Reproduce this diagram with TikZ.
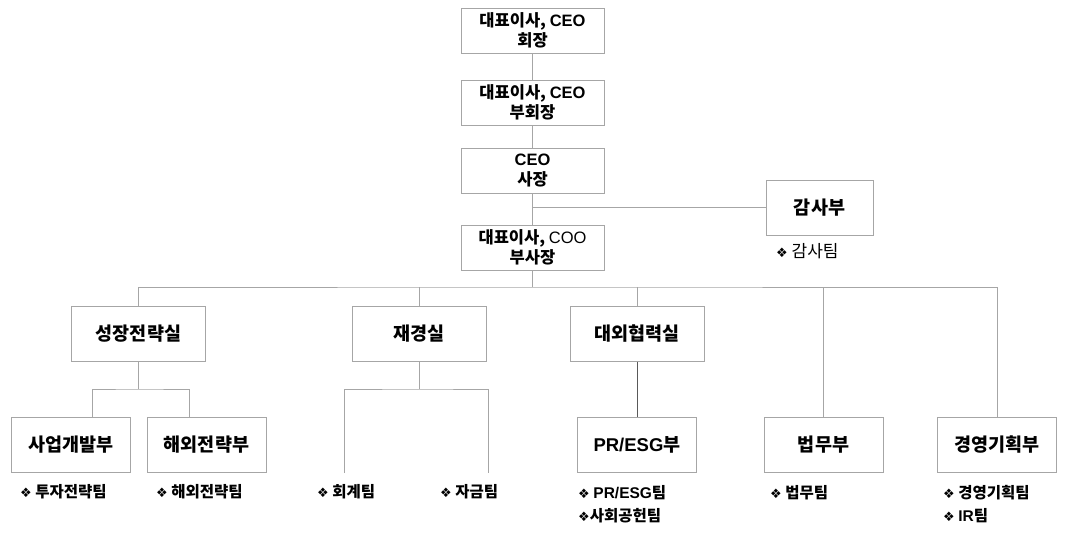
\documentclass[tikz,border=0pt]{standalone}
\usepackage{fontspec}
\setmainfont{Noto Sans CJK KR}
\newfontfamily\en{Liberation Sans}
\newfontfamily\sym{DejaVu Sans}
\newcommand{\dia}{{\sym\fontsize{13}{13}\selectfont ❖}}
\definecolor{linegray}{HTML}{A6A6A6}
\definecolor{darkline}{HTML}{595959}
\tikzset{
    unit/.style={draw=linegray, line width=1pt, fill=white, align=center, inner sep=2pt,
        font=\bfseries\fontsize{18.5}{22}\selectfont},
    topunit/.style={unit, minimum width=143pt, minimum height=45pt,
        font=\bfseries\fontsize{16.5}{20}\selectfont},
    office/.style={unit, minimum width=134pt, minimum height=55pt},
    dept/.style={unit, minimum width=119pt, minimum height=55pt},
    team/.style={anchor=west, inner sep=0pt, font=\bfseries\fontsize{15.5}{18}\selectfont},
    link/.style={draw=linegray, line width=1pt},
}
\begin{document}
\begin{tikzpicture}[x=1pt, y=-1pt]
    \useasboundingbox (0,0) rectangle (1067,533);

    % Top management
    \node[topunit] (chair) at (532.5,30.5) {대표이사, {\en CEO}\\회장};
    \node[topunit] (vchair) at (532.5,102.5) {대표이사, {\en CEO}\\부회장};
    \node[topunit] (ceo) at (532.5,170.5) {{\en CEO}\\사장};
    \node[topunit] (coo) at (532.5,247.5) {대표이사, {\en\mdseries COO}\\부사장};

    % Audit
    \node[unit, minimum width=107pt, minimum height=55pt] (audit) at (819.5,207.5) {감사부};
    \node[team, font=\fontsize{17}{20}\selectfont] (auditteam) at (776,251) {\dia\ 감사팀};

    % Offices
    \node[office] (strat) at (138.5,333.5) {성장전략실};
    \node[office] (fin) at (419,333.5) {재경실};
    \node[office] (ext) at (637,333.5) {대외협력실};

    % Departments
    \node[dept] (bizdev) at (71,445) {사업개발부};
    \node[dept] (overseas) at (206.5,445) {해외전략부};
    \node[dept] (pr) at (637,445) {{\en PR/ESG}부};
    \node[dept] (legal) at (823.5,445) {법무부};
    \node[dept] (plan) at (997,445) {경영기획부};

    % Teams
    \node[team] (invest) at (20,492) {\dia\ 투자전략팀};
    \node[team] (ovteam) at (156,492) {\dia\ 해외전략팀};
    \node[team] (acctteam) at (317,492) {\dia\ 회계팀};
    \node[team] (fundteam) at (440,492) {\dia\ 자금팀};
    \node[team] (prteam) at (578,493) {\dia\ {\en PR/ESG}팀};
    \node[team] (csr) at (578,516) {\dia 사회공헌팀};
    \node[team] (legalteam) at (770,493) {\dia\ 법무팀};
    \node[team] (planteam) at (943,493) {\dia\ 경영기획팀};
    \node[team] (irteam) at (943,516) {\dia\ {\en IR}팀};

    % Connectors
    \coordinate (bus) at (532.5,287);
    \coordinate (stratfork) at (138.5,389);
    \coordinate (finfork) at (419,389);
    \coordinate (acct) at (344,473);
    \coordinate (fund) at (488,473);

    \draw[link] (chair) -- (vchair);
    \draw[link] (vchair) -- (ceo);
    \draw[link] (ceo) -- (coo);
    \draw[link] (audit.west) -- (audit.west -| ceo.south);
    \draw[link] (coo) -- (bus);
    \draw[link] (strat) |- (bus) -| (plan);
    \draw[link] (fin) -- (fin |- bus);
    \draw[link] (ext) -- (ext |- bus);
    \draw[link] (legal) -- (legal |- bus);
    \draw[link] (strat) -- (stratfork);
    \draw[link] ([xshift=21pt]bizdev.north) |- (stratfork) -| ([xshift=-17pt]overseas.north);
    \draw[link] (fin) -- (finfork);
    \draw[link] (acct) |- (finfork) -| (fund);
    \draw[link, draw=darkline] (ext) -- (pr);
\end{tikzpicture}
\end{document}
